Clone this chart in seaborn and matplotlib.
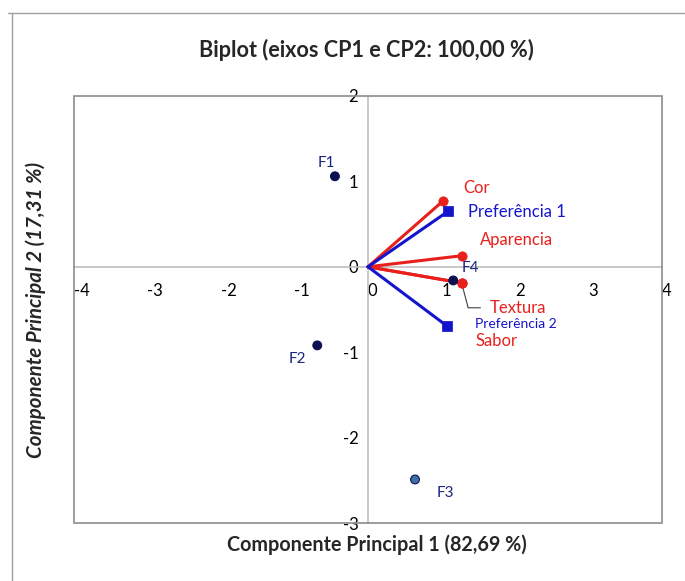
import matplotlib
matplotlib.use("Agg")
import matplotlib.pyplot as plt
import seaborn as sns
import pandas as pd
from matplotlib.patches import Rectangle
from matplotlib.lines import Line2D

# observações (escores)
obs_nomes = ["F1", "F2", "F3", "F4"]
obs_cp1 = [-0.45, -0.69, 0.64, 1.16]
obs_cp2 = [1.06, -0.92, -2.49, -0.16]

# variáveis (cargas)
var_nomes = ["Cor", "Aparencia", "Textura", "Sabor"]
var_cp1 = [1.02, 1.28, 1.28, 1.28]
var_cp2 = [0.77, 0.13, -0.19, -0.19]

# variáveis suplementares
sup_nomes = ["Preferência 1", "Preferência 2"]
sup_cp1 = [1.09, 1.07]
sup_cp2 = [0.65, -0.69]

x_ticks = [-4, -3, -2, -1, 0, 1, 2, 3, 4]
y_ticks = [-3, -2, -1, 0, 1, 2]

sns.set_style("white")
plt.rcParams["font.family"] = ["Lato", "DejaVu Sans"]

VERMELHO = "#e8201c"
AZUL = "#1414cc"
NAVY = "#0c1050"
CINZA = "#bfbfbf"

fig = plt.figure(figsize=(6.85, 5.81), dpi=100)
ax = fig.add_axes([0.108, 0.0998, 0.8584, 0.735])

# moldura externa do gráfico
fig.add_artist(Line2D([8 / 685, 1], [1 - 13 / 581, 1 - 13 / 581], color="#a0a0a0", lw=1))
fig.add_artist(Line2D([12 / 685, 12 / 685], [0, 1 - 13 / 581], color="#a0a0a0", lw=1))

obs = pd.DataFrame({"nome": obs_nomes, "cp1": obs_cp1, "cp2": obs_cp2})
cores_obs = {"F1": NAVY, "F2": NAVY, "F3": "#3d6fa8", "F4": NAVY}

# vetores
for x, y in zip(var_cp1, var_cp2):
    ax.plot([0, x], [0, y], color=VERMELHO, lw=2.2, zorder=3)
for x, y in zip(sup_cp1, sup_cp2):
    ax.plot([0, x], [0, y], color=AZUL, lw=2.2, zorder=3)

var = pd.DataFrame({"cp1": var_cp1, "cp2": var_cp2})
sup = pd.DataFrame({"cp1": sup_cp1, "cp2": sup_cp2})
sns.scatterplot(data=var, x="cp1", y="cp2", color=VERMELHO, marker="o", s=45,
                edgecolor=VERMELHO, ax=ax, zorder=4)
sns.scatterplot(data=sup, x="cp1", y="cp2", color=AZUL, marker="s", s=45,
                edgecolor=AZUL, ax=ax, zorder=4)
sns.scatterplot(data=obs, x="cp1", y="cp2", hue="nome", palette=cores_obs,
                s=40, edgecolor=NAVY, linewidth=0.8, legend=False, ax=ax, zorder=5)

# rótulos das observações
obs_off = {"F1": (-0.12, 0.16), "F2": (-0.27, -0.16), "F3": (0.41, -0.16), "F4": (0.23, 0.15)}
for n, x, y in zip(obs_nomes, obs_cp1, obs_cp2):
    dx, dy = obs_off[n]
    ax.text(x + dx, y + dy, n, color="#1a2580", fontsize=11, ha="center", va="center")

# rótulos das variáveis
ax.text(1.29, 0.92, "Cor", color=VERMELHO, fontsize=12, va="center")
ax.text(1.52, 0.31, "Aparencia", color=VERMELHO, fontsize=12, va="center")
ax.text(1.65, -0.48, "Textura", color=VERMELHO, fontsize=12, va="center")
ax.text(1.46, -0.87, "Sabor", color=VERMELHO, fontsize=12, va="center")
ax.plot([1.28, 1.36, 1.36, 1.53], [-0.21, -0.47, -0.48, -0.48], color="#404040", lw=0.8, zorder=2)
ax.text(1.36, 0.64, "Preferência 1", color=AZUL, fontsize=12, va="center")
ax.text(1.46, -0.67, "Preferência 2", color=AZUL, fontsize=10, va="center")

# eixos passando pela origem
ax.set_xlim(-4, 4)
ax.set_ylim(-3, 2)
for s in ["top", "right"]:
    ax.spines[s].set_visible(False)
ax.spines["left"].set_position(("data", 0))
ax.spines["bottom"].set_position(("data", 0))
ax.spines["left"].set_color(CINZA)
ax.spines["bottom"].set_color(CINZA)
ax.spines["left"].set_linewidth(1.2)
ax.spines["bottom"].set_linewidth(1.2)
ax.set_xticks(x_ticks)
ax.set_yticks(y_ticks)
ax.set_xticklabels([str(t) for t in x_ticks])
ax.set_yticklabels([str(t) for t in y_ticks])
ax.tick_params(axis="both", direction="inout", length=10, width=1, color=CINZA,
               labelsize=12, labelcolor="black")
ax.tick_params(axis="x", pad=7)
ax.tick_params(axis="y", pad=2)
for lbl in ax.get_xticklabels():
    lbl.set_horizontalalignment("left")
ax.add_patch(Rectangle((0, 0), 1, 1, transform=ax.transAxes, fill=False,
                       edgecolor="#8c8c8c", lw=1.2, zorder=6, clip_on=False))

ax.set_xlabel("")
ax.set_ylabel("")
fig.text(0.55, 1 - 545 / 581, "Componente Principal 1 (82,69 %)", fontsize=14.2,
         fontweight="bold", ha="center", va="center")
fig.text(0.052, 1 - 310 / 581, "Componente Principal 2 (17,31 %)", fontsize=14.8,
         fontweight="bold", style="italic", rotation=90, ha="center", va="center")
fig.text(0.535, 1 - 50 / 581, "Biplot (eixos CP1 e CP2: 100,00 %)", fontsize=15.6,
         fontweight="bold", ha="center", va="center")

fig.savefig("out.png", dpi=100)
